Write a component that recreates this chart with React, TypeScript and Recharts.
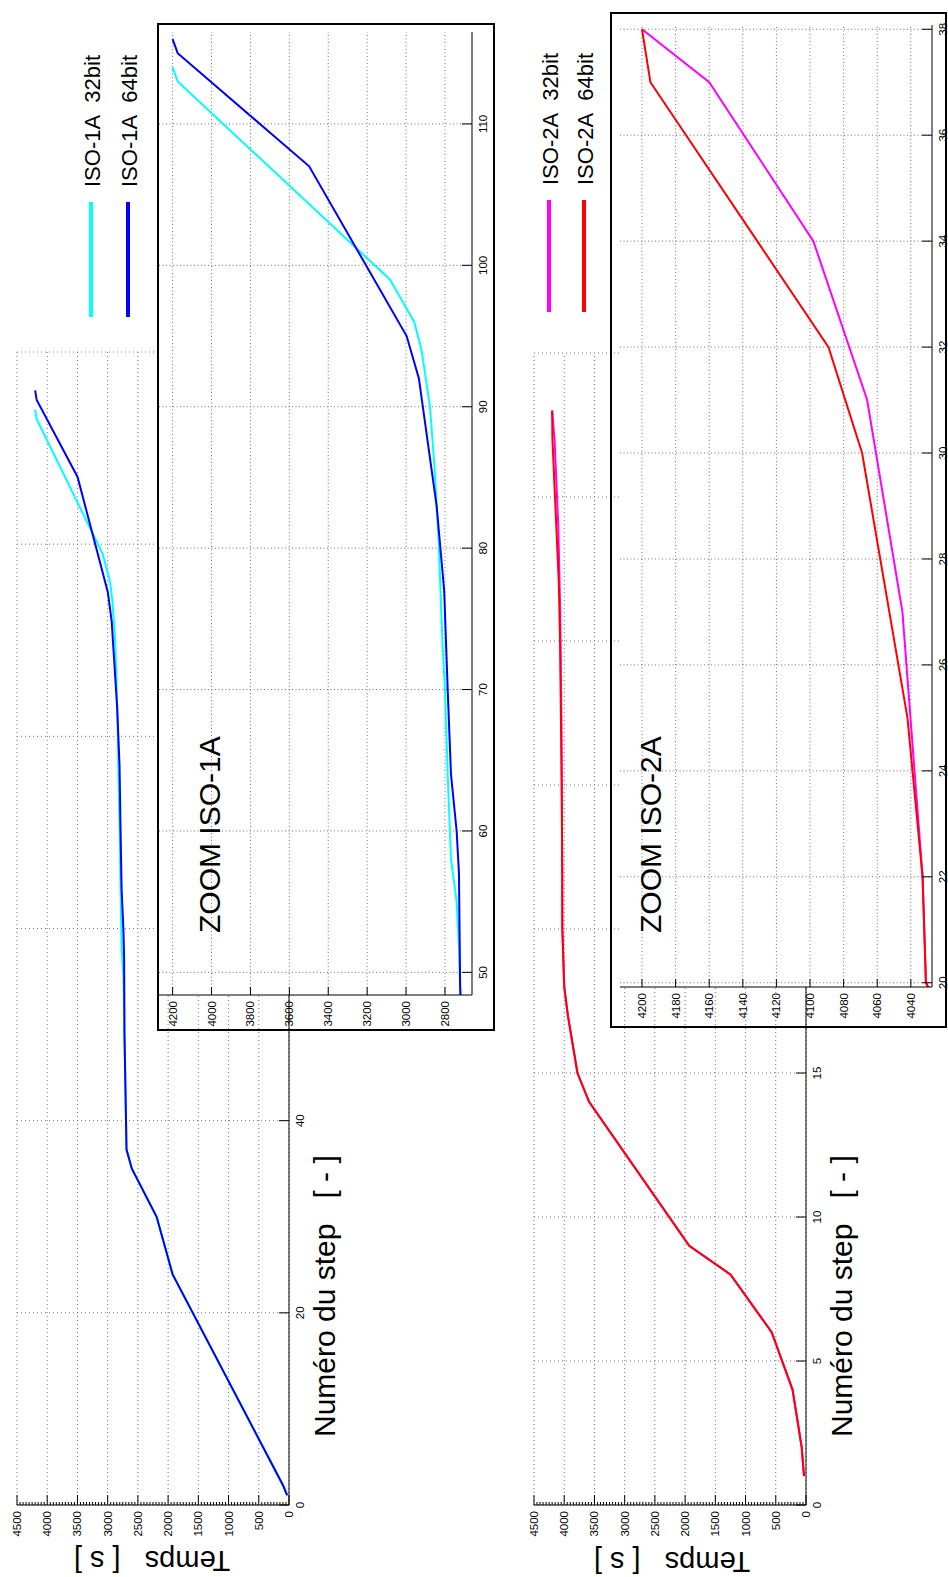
import React from 'react';
import { LineChart, Line, XAxis, YAxis, CartesianGrid } from 'recharts';

// The figure is drawn in landscape (1577 x 948) and then turned a quarter turn, like the scanned page.

// ISO-1A: temps [s] per step
const ISO1A_32_STEPS = [1, 2, 24, 30, 35, 37, 49, 52, 55, 58, 64, 70, 73, 81, 86, 90, 94, 96, 99, 113, 114];
const ISO1A_32_TEMPS = [30, 95, 1925, 2190, 2600, 2688, 2722, 2728, 2740, 2769, 2786, 2800, 2812, 2834, 2855, 2877, 2920, 2958, 3083, 4174, 4200];
const ISO1A_64_STEPS = [1, 2, 24, 30, 35, 37, 49, 57, 60, 64, 70, 77, 83, 92, 95, 107, 115, 116];
const ISO1A_64_TEMPS = [30, 95, 1925, 2190, 2600, 2688, 2722, 2728, 2740, 2769, 2786, 2804, 2843, 2934, 2997, 3498, 4174, 4200];

// ISO-2A
const ISO2A_32_STEPS = [1, 2, 4, 6, 8, 9, 14, 15, 17, 18, 20, 22, 27, 31, 34, 37, 38];
const ISO2A_32_TEMPS = [33, 71, 222, 568, 1247, 1932, 3589, 3781, 3940, 4000, 4031, 4033, 4045, 4066, 4098, 4160, 4200];
const ISO2A_64_STEPS = [1, 2, 4, 6, 8, 9, 14, 15, 17, 18, 20, 22, 25, 30, 32, 37, 38];
const ISO2A_64_TEMPS = [33, 71, 222, 568, 1247, 1932, 3589, 3781, 3940, 4000, 4031, 4033, 4042, 4069, 4089, 4195, 4200];

// ticks
const TEMPS_TICKS = [0, 500, 1000, 1500, 2000, 2500, 3000, 3500, 4000, 4500];
const TEMPS_MINOR_TICKS = Array.from({ length: 91 }, (_, i) => i * 50);
const STEP_TICKS_1 = [0, 20, 40, 60, 80, 100, 120];
const STEP_TICKS_2 = [0, 5, 10, 15, 20, 25, 30, 35, 40];
const ZOOM1_STEP_TICKS = [50, 60, 70, 80, 90, 100, 110];
const ZOOM1_TEMPS_TICKS = [2800, 3000, 3200, 3400, 3600, 3800, 4000, 4200];
const ZOOM2_STEP_TICKS = [20, 22, 24, 26, 28, 30, 32, 34, 36, 38];
const ZOOM2_TEMPS_TICKS = [4040, 4060, 4080, 4100, 4120, 4140, 4160, 4180, 4200];

const FONT = '"Liberation Sans", Arial, Helvetica, sans-serif';
const NB = '\u00a0';

type Pt = { step: number; temps: number };
type Serie = { name: string; color: string; data: Pt[] };

const pair = (steps: number[], temps: number[]): Pt[] =>
  steps.map((s, i) => ({ step: s, temps: temps[i] }));

const ISO1A: Serie[] = [
  { name: `ISO-1A${NB}${NB}32bit`, color: '#00ffff', data: pair(ISO1A_32_STEPS, ISO1A_32_TEMPS) },
  { name: `ISO-1A${NB}${NB}64bit`, color: '#0000ff', data: pair(ISO1A_64_STEPS, ISO1A_64_TEMPS) },
];
const ISO2A: Serie[] = [
  { name: `ISO-2A${NB}${NB}32bit`, color: '#ff00ff', data: pair(ISO2A_32_STEPS, ISO2A_32_TEMPS) },
  { name: `ISO-2A${NB}${NB}64bit`, color: '#ff0000', data: pair(ISO2A_64_STEPS, ISO2A_64_TEMPS) },
];

// ticks point inwards, labels outside
const leftTick = (majors: number[], len: number, minorLen: number) => (p: any) => {
  const { x, y, payload } = p;
  const major = majors.indexOf(payload.value) >= 0;
  return (
    <g>
      <line x1={x} y1={y} x2={x + (major ? len : minorLen)} y2={y} stroke="#000" strokeWidth={1} />
      {major && (
        <text x={x - 6} y={y + 4} textAnchor="end" fontSize={11.5} fontFamily={FONT} fill="#000">
          {payload.value}
        </text>
      )}
    </g>
  );
};

const bottomTick = (len: number) => (p: any) => {
  const { x, y, payload } = p;
  return (
    <g>
      <line x1={x} y1={y} x2={x} y2={y - len} stroke="#000" strokeWidth={1} />
      <text x={x} y={y + 15} textAnchor="middle" fontSize={11.5} fontFamily={FONT} fill="#000">
        {payload.value}
      </text>
    </g>
  );
};

function MainPlot({ top, height, marginTop, plotRight, series, stepDomain, stepTicks }: {
  top: number; height: number; marginTop: number; plotRight: number;
  series: Serie[]; stepDomain: [number, number]; stepTicks: number[];
}) {
  return (
    <div style={{ position: 'absolute', left: 0, top }}>
      <LineChart
        width={1577}
        height={height}
        margin={{ top: marginTop, right: 1577 - plotRight, bottom: height - marginTop - 272 - 30, left: 0 }}
      >
        <CartesianGrid stroke="#777" strokeDasharray="1 3" horizontalValues={TEMPS_TICKS} verticalValues={stepTicks} />
        <XAxis
          type="number"
          dataKey="step"
          domain={stepDomain}
          ticks={stepTicks}
          interval={0}
          height={30}
          tickSize={0}
          tickMargin={0}
          tickLine={false}
          axisLine={{ stroke: '#000' }}
          tick={bottomTick(10)}
        />
        <YAxis
          type="number"
          domain={[0, 4500]}
          ticks={TEMPS_MINOR_TICKS}
          interval={0}
          width={72}
          tickSize={0}
          tickMargin={0}
          tickLine={false}
          axisLine={{ stroke: '#000' }}
          tick={leftTick(TEMPS_TICKS, 10, 3)}
        />
        {series.map((s) => (
          <Line key={s.name} data={s.data} dataKey="temps" type="linear" stroke={s.color}
            strokeWidth={2} dot={false} isAnimationActive={false} />
        ))}
      </LineChart>
    </div>
  );
}

function ZoomPlot({ left, top, width, height, margin, yWidth, xHeight, series, stepDomain, tempsDomain, stepTicks, tempsTicks }: {
  left: number; top: number; width: number; height: number;
  margin: { top: number; right: number; bottom: number; left: number };
  yWidth: number; xHeight: number; series: Serie[];
  stepDomain: [number, number]; tempsDomain: [number, number];
  stepTicks: number[]; tempsTicks: number[];
}) {
  return (
    <div style={{ position: 'absolute', left, top }}>
      <LineChart width={width} height={height} margin={margin}>
        <CartesianGrid stroke="#777" strokeDasharray="1 2.5" fill="#fff"
          horizontalValues={tempsTicks} verticalValues={stepTicks} />
        <XAxis
          type="number"
          dataKey="step"
          domain={stepDomain}
          allowDataOverflow
          ticks={stepTicks}
          interval={0}
          height={xHeight}
          tickSize={0}
          tickMargin={0}
          tickLine={false}
          axisLine={{ stroke: '#000' }}
          tick={bottomTick(10)}
        />
        <YAxis
          type="number"
          domain={tempsDomain}
          allowDataOverflow
          ticks={tempsTicks}
          interval={0}
          width={yWidth}
          tickSize={0}
          tickMargin={0}
          tickLine={false}
          axisLine={{ stroke: '#000' }}
          tick={leftTick(tempsTicks, 8, 0)}
        />
        {series.map((s) => (
          <Line key={s.name} data={s.data} dataKey="temps" type="linear" stroke={s.color}
            strokeWidth={2} dot={false} isAnimationActive={false} />
        ))}
      </LineChart>
    </div>
  );
}

function LegendBlock({ series, rows, x1, x2, tx }: { series: Serie[]; rows: number[]; x1: number; x2: number; tx: number }) {
  return (
    <g>
      {series.map((s, i) => (
        <g key={s.name}>
          <line x1={x1} y1={rows[i]} x2={x2} y2={rows[i]} stroke={s.color} strokeWidth={4} />
          <text x={tx} y={rows[i] + 9} fontSize={22} fontFamily={FONT} fill="#000">{s.name}</text>
        </g>
      ))}
    </g>
  );
}

export default function App() {
  return (
    <div style={{ position: 'absolute', left: 0, top: 0, width: 948, height: 1577, overflow: 'hidden', background: '#fff' }}>
      <div
        style={{
          position: 'absolute', left: 0, top: 0, width: 1577, height: 948,
          transformOrigin: '0 0', transform: 'translate(0px, 1577px) rotate(-90deg)',
        }}
      >
        <MainPlot top={0} height={330} marginTop={17} plotRight={1225} series={ISO1A}
          stepDomain={[0, 120]} stepTicks={STEP_TICKS_1} />
        <MainPlot top={500} height={340} marginTop={34} plotRight={1224} series={ISO2A}
          stepDomain={[0, 40]} stepTicks={STEP_TICKS_2} />

        <ZoomPlot left={546} top={157} width={1008} height={338}
          margin={{ top: 2, right: 9, bottom: 0, left: 0 }} yWidth={36} xHeight={23}
          series={ISO1A} stepDomain={[48.4, 116.5]} tempsDomain={[2661, 4270]}
          stepTicks={ZOOM1_STEP_TICKS} tempsTicks={ZOOM1_TEMPS_TICKS} />
        <ZoomPlot left={549} top={610} width={1016} height={338}
          margin={{ top: 10, right: 13, bottom: 0, left: 0 }} yWidth={41} xHeight={16}
          series={ISO2A} stepDomain={[19.92, 38.08]} tempsDomain={[4027.4, 4213.1]}
          stepTicks={ZOOM2_STEP_TICKS} tempsTicks={ZOOM2_TEMPS_TICKS} />

        <svg width={1577} height={948} style={{ position: 'absolute', left: 0, top: 0, pointerEvents: 'none' }}>
          <rect x={547} y={158} width={1006} height={336} fill="none" stroke="#000" strokeWidth={2} />
          <rect x={550} y={611} width={1014} height={335} fill="none" stroke="#000" strokeWidth={2} />

          <text transform="translate(26,152) rotate(-90)" textAnchor="middle" fontSize={29} fontFamily={FONT}>
            {`Temps${NB}${NB}${NB}[ s ]`}
          </text>
          <text transform="translate(25,672) rotate(-90)" textAnchor="middle" fontSize={29} fontFamily={FONT}>
            {`Temps${NB}${NB}${NB}[ s ]`}
          </text>
          <text x={140} y={335} fontSize={30} fontFamily={FONT}>{`Numéro du step${NB}${NB}${NB}[ - ]`}</text>
          <text x={140} y={852} fontSize={30} fontFamily={FONT}>{`Numéro du step${NB}${NB}${NB}[ - ]`}</text>

          <text x={644} y={220} fontSize={30} fontFamily={FONT}>ZOOM ISO-1A</text>
          <text x={644} y={661} fontSize={30} fontFamily={FONT}>ZOOM ISO-2A</text>

          <LegendBlock series={ISO1A} rows={[91, 128]} x1={1260} x2={1375} tx={1390} />
          <LegendBlock series={ISO2A} rows={[549, 584]} x1={1265} x2={1377} tx={1392} />
        </svg>
      </div>
    </div>
  );
}
